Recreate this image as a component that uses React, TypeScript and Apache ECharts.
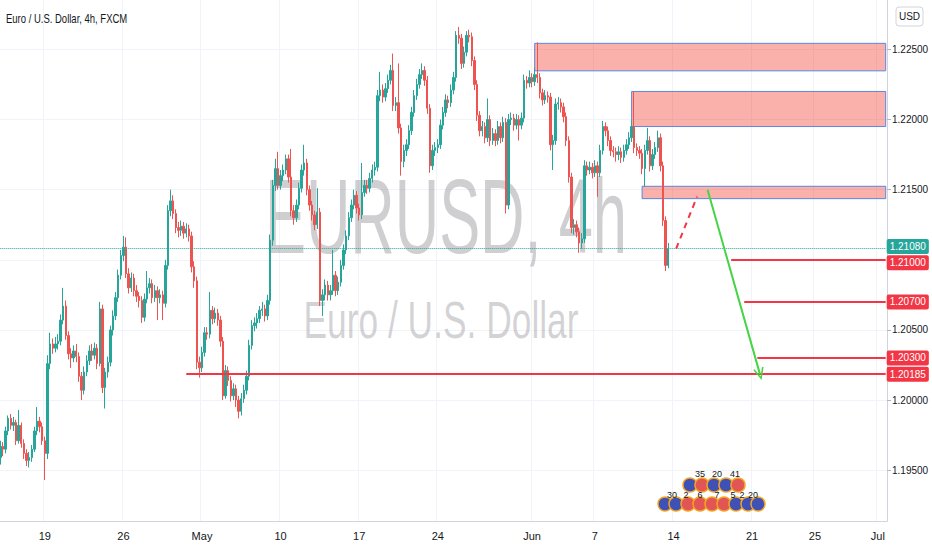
import React, { useEffect, useRef } from 'react';
import * as echarts from 'echarts';

// EUR/USD 4h candles, [open, close, low, high], grouped by trading week
const wkApr14 = [
  [1.1959, 1.1967, 1.1954, 1.1971], [1.1967, 1.1965, 1.196, 1.197], [1.1965, 1.1978, 1.1962, 1.1981],
  [1.1978, 1.1987, 1.1975, 1.1989], [1.1987, 1.1982, 1.1979, 1.199], [1.1982, 1.1984, 1.1978, 1.1988],
  [1.1984, 1.1971, 1.1968, 1.1986], [1.1971, 1.1982, 1.1969, 1.1993], [1.1982, 1.1969, 1.1966, 1.1984],
  [1.1969, 1.1962, 1.1958, 1.1972], [1.1962, 1.1957, 1.1953, 1.1965], [1.1957, 1.1959, 1.1952, 1.1963],
  [1.1959, 1.1965, 1.1956, 1.1968], [1.1965, 1.1978, 1.1963, 1.1981], [1.1978, 1.1985, 1.1975, 1.1995],
  [1.1985, 1.1981, 1.1977, 1.1988],
];
const wkApr19 = [
  [1.1981, 1.1971, 1.1968, 1.1984], [1.1971, 1.1962, 1.1943, 1.1974], [1.1962, 1.2026, 1.1958, 1.2032],
  [1.2026, 1.204, 1.2022, 1.2048], [1.204, 1.2037, 1.2033, 1.2044], [1.2037, 1.204, 1.2034, 1.2045],
  [1.204, 1.2042, 1.2036, 1.2047], [1.2042, 1.2057, 1.2039, 1.2061], [1.2057, 1.2067, 1.2054, 1.208],
  [1.2067, 1.2046, 1.2043, 1.2071], [1.2046, 1.2033, 1.2029, 1.2049], [1.2033, 1.203, 1.2023, 1.2037],
  [1.203, 1.2035, 1.2027, 1.2039], [1.2035, 1.2031, 1.2027, 1.204], [1.2031, 1.2017, 1.2013, 1.2034],
  [1.2017, 1.2007, 1.2, 1.202], [1.2007, 1.202, 1.2004, 1.2024], [1.202, 1.2028, 1.2017, 1.2032],
  [1.2028, 1.2035, 1.2025, 1.2039], [1.2035, 1.2032, 1.2028, 1.204], [1.2032, 1.2037, 1.2029, 1.2041],
  [1.2037, 1.2026, 1.2022, 1.204], [1.2026, 1.2065, 1.2024, 1.207], [1.2065, 1.2009, 1.2005, 1.2068],
  [1.2009, 1.202, 1.1994, 1.2023], [1.202, 1.2027, 1.2016, 1.2031], [1.2027, 1.205, 1.2024, 1.2053],
  [1.205, 1.206, 1.2046, 1.2064], [1.206, 1.2073, 1.2057, 1.2077], [1.2073, 1.2089, 1.207, 1.2093],
];
const wkApr26 = [
  [1.2089, 1.2103, 1.2086, 1.2107], [1.2103, 1.2109, 1.2099, 1.2117], [1.2109, 1.209, 1.2087, 1.2116],
  [1.209, 1.208, 1.2076, 1.2094], [1.208, 1.2087, 1.2077, 1.2091], [1.2087, 1.2078, 1.2074, 1.209],
  [1.2078, 1.2074, 1.207, 1.2082], [1.2074, 1.2071, 1.2066, 1.2077], [1.2071, 1.2059, 1.2055, 1.2074],
  [1.2059, 1.2072, 1.2056, 1.2076], [1.2072, 1.208, 1.2069, 1.2092], [1.208, 1.2083, 1.2076, 1.2087],
  [1.2083, 1.2073, 1.2069, 1.2086], [1.2073, 1.2078, 1.207, 1.2082], [1.2078, 1.2073, 1.2057, 1.2081],
  [1.2073, 1.2075, 1.2069, 1.2079], [1.2075, 1.2069, 1.2057, 1.2078], [1.2069, 1.2096, 1.2066, 1.21],
  [1.2096, 1.2135, 1.2093, 1.2139], [1.2135, 1.2142, 1.2131, 1.215], [1.2142, 1.2133, 1.2129, 1.2146],
  [1.2133, 1.2123, 1.2119, 1.2136], [1.2123, 1.2121, 1.2116, 1.2127], [1.2121, 1.2124, 1.2117, 1.2128],
  [1.2124, 1.2119, 1.2115, 1.2127], [1.2119, 1.2122, 1.2116, 1.2126], [1.2122, 1.2117, 1.2113, 1.2125],
  [1.2117, 1.2095, 1.2091, 1.212], [1.2095, 1.2085, 1.208, 1.2099], [1.2085, 1.2027, 1.2022, 1.2088],
];
const wkMay3 = [
  [1.2027, 1.2023, 1.2016, 1.2031], [1.2023, 1.2034, 1.202, 1.2038], [1.2034, 1.2048, 1.2031, 1.2052],
  [1.2048, 1.2047, 1.2043, 1.2052], [1.2047, 1.2064, 1.2044, 1.2077], [1.2064, 1.2058, 1.2054, 1.2067],
  [1.2058, 1.2062, 1.2055, 1.2066], [1.2062, 1.2057, 1.2053, 1.2065], [1.2057, 1.2042, 1.2038, 1.206],
  [1.2042, 1.2003, 1.2, 1.2045], [1.2003, 1.2021, 1.2001, 1.2025], [1.2021, 1.2014, 1.201, 1.2024],
  [1.2014, 1.2003, 1.1999, 1.2017], [1.2003, 1.2008, 1.2, 1.2012], [1.2008, 1.2, 1.1995, 1.2011],
  [1.2, 1.1992, 1.1987, 1.2003], [1.1992, 1.2001, 1.1989, 1.2005], [1.2001, 1.2007, 1.1998, 1.2011],
  [1.2007, 1.2017, 1.2004, 1.2021], [1.2017, 1.2039, 1.2014, 1.2043], [1.2039, 1.2053, 1.2036, 1.2057],
  [1.2053, 1.2055, 1.2049, 1.2059], [1.2055, 1.2058, 1.2051, 1.2062], [1.2058, 1.2064, 1.2055, 1.2067],
  [1.2064, 1.2065, 1.206, 1.207], [1.2065, 1.206, 1.2056, 1.2068], [1.206, 1.2071, 1.2057, 1.2075],
  [1.2071, 1.2114, 1.2068, 1.2118], [1.2114, 1.2153, 1.211, 1.2157], [1.2153, 1.2165, 1.2149, 1.2172],
];
const wkMay10 = [
  [1.2165, 1.2153, 1.215, 1.2177], [1.2153, 1.216, 1.215, 1.2164], [1.216, 1.2164, 1.2156, 1.2168],
  [1.2164, 1.2172, 1.2161, 1.2175], [1.2172, 1.2159, 1.2155, 1.2175], [1.2159, 1.2135, 1.2131, 1.2179],
  [1.2135, 1.213, 1.2125, 1.2139], [1.213, 1.2139, 1.2127, 1.2143], [1.2139, 1.2151, 1.2136, 1.2155],
  [1.2151, 1.2164, 1.2148, 1.2168], [1.2164, 1.2169, 1.216, 1.2182], [1.2169, 1.215, 1.2146, 1.2172],
  [1.215, 1.2139, 1.2135, 1.2153], [1.2139, 1.2132, 1.2128, 1.2142], [1.2132, 1.2125, 1.2121, 1.2135],
  [1.2125, 1.2134, 1.2122, 1.2151], [1.2134, 1.2071, 1.2067, 1.2137], [1.2071, 1.2075, 1.206, 1.2079],
  [1.2075, 1.2082, 1.2071, 1.2086], [1.2082, 1.2075, 1.2071, 1.2085], [1.2075, 1.2078, 1.2071, 1.2082],
  [1.2078, 1.2089, 1.2075, 1.2107], [1.2089, 1.2078, 1.2074, 1.2092], [1.2078, 1.2084, 1.2075, 1.2088],
  [1.2084, 1.2096, 1.2081, 1.21], [1.2096, 1.2107, 1.2093, 1.2111], [1.2107, 1.2117, 1.2104, 1.2121],
  [1.2117, 1.213, 1.2114, 1.2134], [1.213, 1.2139, 1.2127, 1.2143], [1.2139, 1.2146, 1.2136, 1.215],
];
const wkMay17 = [
  [1.2146, 1.2137, 1.2133, 1.2149], [1.2137, 1.2132, 1.2128, 1.214], [1.2132, 1.2148, 1.2129, 1.2169],
  [1.2148, 1.2153, 1.2145, 1.2157], [1.2153, 1.2151, 1.2147, 1.2157], [1.2151, 1.2158, 1.2148, 1.2162],
  [1.2158, 1.2164, 1.2155, 1.2168], [1.2164, 1.2166, 1.216, 1.217], [1.2166, 1.2217, 1.2163, 1.2221],
  [1.2217, 1.2221, 1.2213, 1.2234], [1.2221, 1.2216, 1.2212, 1.2225], [1.2216, 1.2222, 1.2213, 1.2226],
  [1.2222, 1.2228, 1.2219, 1.2232], [1.2228, 1.2235, 1.2225, 1.2239], [1.2235, 1.221, 1.2206, 1.2247],
  [1.221, 1.2212, 1.2206, 1.2216], [1.2212, 1.2194, 1.219, 1.224], [1.2194, 1.217, 1.216, 1.2197],
  [1.217, 1.2178, 1.2166, 1.2182], [1.2178, 1.2182, 1.2174, 1.2186], [1.2182, 1.2192, 1.2179, 1.2196],
  [1.2192, 1.2205, 1.2189, 1.2209], [1.2205, 1.2217, 1.2202, 1.2221], [1.2217, 1.2225, 1.2214, 1.2229],
  [1.2225, 1.2232, 1.2222, 1.2236], [1.2232, 1.2235, 1.2229, 1.224], [1.2235, 1.2228, 1.2224, 1.2238],
  [1.2228, 1.2208, 1.2204, 1.2231], [1.2208, 1.2167, 1.2162, 1.2211], [1.2167, 1.2178, 1.2164, 1.2182],
];
const wkMay24 = [
  [1.2178, 1.218, 1.2174, 1.2184], [1.218, 1.2182, 1.2176, 1.2186], [1.2182, 1.2196, 1.2179, 1.22],
  [1.2196, 1.2205, 1.2193, 1.2209], [1.2205, 1.2214, 1.2202, 1.2218], [1.2214, 1.2212, 1.2208, 1.2217],
  [1.2212, 1.2221, 1.2209, 1.2225], [1.2221, 1.223, 1.2218, 1.2234], [1.223, 1.226, 1.2227, 1.2263],
  [1.226, 1.2258, 1.2254, 1.2266], [1.2258, 1.224, 1.2236, 1.2261], [1.224, 1.2248, 1.2237, 1.2252],
  [1.2248, 1.226, 1.2245, 1.2263], [1.226, 1.2259, 1.2255, 1.2264], [1.2259, 1.2242, 1.2238, 1.2262],
  [1.2242, 1.2225, 1.2221, 1.2245], [1.2225, 1.2203, 1.2199, 1.2228], [1.2203, 1.2192, 1.2188, 1.2206],
  [1.2192, 1.2195, 1.2188, 1.2199], [1.2195, 1.2187, 1.2183, 1.2198], [1.2187, 1.22, 1.2184, 1.2215],
  [1.22, 1.2185, 1.2181, 1.2203], [1.2185, 1.219, 1.2182, 1.2194], [1.219, 1.2185, 1.2181, 1.2193],
  [1.2185, 1.2195, 1.2182, 1.2199], [1.2195, 1.2187, 1.2183, 1.2198], [1.2187, 1.2198, 1.2184, 1.2202],
  [1.2198, 1.2139, 1.2133, 1.2201], [1.2139, 1.22, 1.2136, 1.2204], [1.22, 1.2201, 1.2196, 1.2205],
];
const wkMay31 = [
  [1.2201, 1.2196, 1.2192, 1.2204], [1.2196, 1.22, 1.2193, 1.2204], [1.22, 1.2196, 1.2185, 1.2203],
  [1.2196, 1.2201, 1.2193, 1.2205], [1.2201, 1.2228, 1.2198, 1.2232], [1.2228, 1.2226, 1.2222, 1.2231],
  [1.2226, 1.223, 1.2223, 1.2235], [1.223, 1.2227, 1.2223, 1.2233], [1.2227, 1.2232, 1.2224, 1.2237],
  [1.2232, 1.223, 1.2226, 1.2255], [1.223, 1.2219, 1.2215, 1.2233], [1.2219, 1.2214, 1.221, 1.2222],
  [1.2214, 1.2217, 1.2211, 1.2221], [1.2217, 1.2216, 1.2212, 1.222], [1.2216, 1.2182, 1.2178, 1.2219],
  [1.2182, 1.2185, 1.2164, 1.2189], [1.2185, 1.2211, 1.2182, 1.2215], [1.2211, 1.2212, 1.2207, 1.2216],
  [1.2212, 1.2209, 1.2205, 1.2215], [1.2209, 1.2202, 1.2198, 1.2212], [1.2202, 1.2185, 1.2181, 1.2205],
  [1.2185, 1.2159, 1.2155, 1.2188], [1.2159, 1.2123, 1.2119, 1.2162], [1.2123, 1.2125, 1.2118, 1.2129],
  [1.2125, 1.212, 1.2116, 1.2128], [1.212, 1.2112, 1.2105, 1.2123], [1.2112, 1.2115, 1.2108, 1.2119],
  [1.2115, 1.2167, 1.2112, 1.2171], [1.2167, 1.2164, 1.216, 1.217], [1.2164, 1.2166, 1.2161, 1.217],
];
const wkJun7 = [
  [1.2166, 1.2162, 1.2158, 1.2169], [1.2162, 1.2167, 1.2159, 1.2171], [1.2167, 1.2162, 1.2145, 1.217],
  [1.2162, 1.2178, 1.2159, 1.2182], [1.2178, 1.2195, 1.2175, 1.2199], [1.2195, 1.2192, 1.2188, 1.2198],
  [1.2192, 1.2185, 1.2181, 1.2195], [1.2185, 1.2178, 1.2174, 1.2188], [1.2178, 1.2177, 1.2173, 1.2181],
  [1.2177, 1.2175, 1.217, 1.218], [1.2175, 1.2177, 1.2171, 1.2181], [1.2177, 1.2173, 1.2169, 1.218],
  [1.2173, 1.2178, 1.217, 1.2182], [1.2178, 1.2182, 1.2175, 1.2186], [1.2182, 1.2187, 1.2179, 1.2191],
  [1.2187, 1.2195, 1.2184, 1.2199], [1.2195, 1.218, 1.2176, 1.222], [1.218, 1.2178, 1.2174, 1.2183],
  [1.2178, 1.2176, 1.2172, 1.2181], [1.2176, 1.2165, 1.2161, 1.2179], [1.2165, 1.2178, 1.2152, 1.2182],
  [1.2178, 1.2185, 1.2175, 1.2194], [1.2185, 1.2167, 1.2163, 1.2188], [1.2167, 1.2175, 1.2164, 1.2179],
  [1.2175, 1.218, 1.2172, 1.2184], [1.218, 1.2187, 1.2177, 1.2192], [1.2187, 1.2167, 1.2163, 1.219],
  [1.2167, 1.2128, 1.2124, 1.217], [1.2128, 1.2096, 1.2092, 1.2131], [1.2096, 1.2108, 1.2094, 1.2112],
];
const candles = [...wkApr14, ...wkApr19, ...wkApr26, ...wkMay3, ...wkMay10, ...wkMay17, ...wkMay24, ...wkMay31, ...wkJun7];

// time axis: 4h slots (data + empty future space)
const totalSlots = 339;
const tickDays = ['2021-04-19', '2021-04-26', '2021-05-03', '2021-05-10', '2021-05-17', '2021-05-24', '2021-06-01', '2021-06-07', '2021-06-14', '2021-06-21', '2021-06-25', '2021-07-01'];
const tickTexts = ['19', '26', 'May', '10', '17', '24', 'Jun', '7', '14', '21', '25', 'Jul'];

// price axis
const priceTicks = [1.195, 1.2, 1.205, 1.21, 1.215, 1.22, 1.225];
const priceLabelTicks = [1.195, 1.2, 1.205, 1.215, 1.22, 1.225];
const priceMin = 1.19138;
const priceMax = 1.22852;
const lastPrice = 1.2108;

// drawings
const zoneStarts = ['2021-06-01 05', '2021-06-09 09', '2021-06-10 01'];
const zoneTops = [1.22543, 1.222, 1.21524];
const zoneBottoms = [1.22347, 1.2195, 1.21436];
const levelStarts = ['2021-06-17 17', '2021-06-18 13', '2021-06-21 09', '2021-04-30 01'];
const levelPrices = [1.21, 1.207, 1.203, 1.20185];
const projTimes = ['2021-06-14 05', '2021-06-15 13'];
const projPrices = [1.2108, 1.2145];
const arrowTimes = ['2021-06-16 05', '2021-06-21 13'];
const arrowPrices = [1.215, 1.20185];

const FONT = '"Liberation Sans", Arial, sans-serif';
const UP = '#26a69a';
const DOWN = '#ef5350';
const RED = '#f23645';

function buildTimes(n: number): string[] {
  const out: string[] = [];
  const pad = (v: number) => String(v).padStart(2, '0');
  let t = Date.UTC(2021, 3, 14, 5);
  while (out.length < n) {
    const d = new Date(t);
    const wd = d.getUTCDay();
    const h = d.getUTCHours();
    const closed = (wd === 5 && h >= 21) || wd === 6 || (wd === 0 && h < 21);
    if (!closed) out.push(`${d.getUTCFullYear()}-${pad(d.getUTCMonth() + 1)}-${pad(d.getUTCDate())} ${pad(h)}`);
    t += 4 * 3600 * 1000;
  }
  return out;
}

function boxLabel(text: string, bg: string, dy = 0) {
  return {
    show: true,
    position: 'end',
    formatter: text,
    color: '#ffffff',
    backgroundColor: bg,
    padding: [2, 3, 1, 3],
    fontSize: 10,
    lineHeight: 12,
    fontFamily: FONT,
    distance: 1,
    offset: [0, dy],
    borderRadius: 2,
  };
}

function eventIcons() {
  const row1 = [690, 702, 714, 726, 738];
  const row2 = [665, 676, 688, 700, 712, 724, 736, 748, 758];
  const fills1 = ['#3f51b5', '#e25555', '#3f51b5', '#3f51b5', '#e25555'];
  const fills2 = ['#3f51b5', '#3f51b5', '#e25555', '#e25555', '#e25555', '#e25555', '#3f51b5', '#3f51b5', '#3f51b5'];
  const els: any[] = [];
  row1.forEach((x, k) => els.push({ type: 'circle', shape: { cx: x, cy: 485, r: 7 }, style: { fill: fills1[k], stroke: '#f5a623', lineWidth: 1.5 }, z: 20 }));
  row2.forEach((x, k) => els.push({ type: 'circle', shape: { cx: x, cy: 504, r: 7 }, style: { fill: fills2[k], stroke: '#f5a623', lineWidth: 1.5 }, z: 20 }));
  const t1 = [['35', 700], ['20', 717], ['41', 735]];
  const t2 = [['30', 672], ['2', 686], ['6', 700], ['7', 717], ['5', 733], ['2', 742], ['20', 753]];
  t1.forEach(([s, x]) => els.push({ type: 'text', x: x as number, y: 474, style: { text: s as string, font: `9px ${FONT}`, fill: '#131722', align: 'center', verticalAlign: 'middle' }, z: 21 }));
  t2.forEach(([s, x]) => els.push({ type: 'text', x: x as number, y: 495, style: { text: s as string, font: `9px ${FONT}`, fill: '#131722', align: 'center', verticalAlign: 'middle' }, z: 21 }));
  return els;
}

export default function App() {
  const ref = useRef<HTMLDivElement>(null);

  useEffect(() => {
    if (!ref.current) return;
    const chart = echarts.init(ref.current, undefined, { renderer: 'svg' });
    const times = buildTimes(totalSlots);
    const lastSlot = times[totalSlots - 1];
    const tickMap: Record<string, string> = {};
    tickDays.forEach((d, i) => { tickMap[`${d} 01`] = tickTexts[i]; });
    const showTick = (_: number, v: string) => tickMap[v] !== undefined;

    const markLines: any[] = [];
    levelStarts.forEach((s, k) => {
      markLines.push([
        { coord: [s, levelPrices[k]], lineStyle: { color: RED, type: 'solid', width: 2 }, label: boxLabel(levelPrices[k].toFixed(5), RED, k === 0 ? 3 : 0) },
        { coord: [lastSlot, levelPrices[k]] },
      ]);
    });
    markLines.push([
      { coord: [times[0], lastPrice], lineStyle: { color: UP, type: 'dotted', width: 1 }, label: boxLabel(lastPrice.toFixed(5), UP, -2) },
      { coord: [lastSlot, lastPrice] },
    ]);
    markLines.push([
      { coord: [projTimes[0], projPrices[0]], lineStyle: { color: RED, type: [6, 5], width: 2 }, label: { show: false } },
      { coord: [projTimes[1], projPrices[1]] },
    ]);
    markLines.push([
      { coord: [arrowTimes[0], arrowPrices[0]], lineStyle: { color: '#45d445', type: 'solid', width: 2 }, label: { show: false } },
      { coord: [arrowTimes[1], arrowPrices[1]], symbol: 'path://M0,12 L5,0 L10,12 L8.4,12 L5,3.6 L1.6,12 Z', symbolSize: [11, 12] },
    ]);

    const markAreas = zoneStarts.map((s, k) => [
      { coord: [s, zoneTops[k]] },
      { coord: [lastSlot, zoneBottoms[k]] },
    ]);

    chart.setOption({
      animation: false,
      backgroundColor: '#ffffff',
      grid: { left: -1, right: 45, top: 0, bottom: 29, containLabel: false, outerBoundsMode: 'none' },
      xAxis: {
        type: 'category',
        data: times,
        boundaryGap: true,
        axisLine: { show: true, lineStyle: { color: '#d1d4dc' } },
        axisTick: { show: false },
        axisLabel: {
          interval: showTick,
          formatter: (v: string) => tickMap[v] ?? '',
          color: '#131722',
          fontSize: 11,
          margin: 9,
          fontFamily: FONT,
        },
        splitLine: { show: true, interval: showTick, lineStyle: { color: '#f0f3fa' } },
      },
      yAxis: {
        type: 'value',
        position: 'right',
        min: priceMin,
        max: priceMax,
        axisLine: { show: true, lineStyle: { color: '#d1d4dc' } },
        axisTick: { show: true, length: 4, customValues: priceTicks, lineStyle: { color: '#b2b5be' } },
        axisLabel: {
          customValues: priceLabelTicks,
          formatter: (v: number) => v.toFixed(5),
          color: '#131722',
          fontSize: 10,
          margin: 5,
          fontFamily: FONT,
        },
        splitLine: { show: true, lineStyle: { color: '#f0f3fa' } },
      },
      graphic: [
        {
          type: 'text', x: 446, y: 216, scaleX: 0.58, z: 1, silent: true,
          style: { text: 'EURUSD, 4h', font: `106px ${FONT}`, fill: 'rgba(140,140,146,0.42)', align: 'center', verticalAlign: 'middle' },
        },
        {
          type: 'text', x: 441, y: 320, scaleX: 0.68, z: 1, silent: true,
          style: { text: 'Euro / U.S. Dollar', font: `52px ${FONT}`, fill: 'rgba(140,140,146,0.38)', align: 'center', verticalAlign: 'middle' },
        },
        {
          type: 'text', x: 6, y: 18, scaleX: 0.73, z: 30, silent: true,
          style: { text: 'Euro / U.S. Dollar, 4h, FXCM', font: `13px ${FONT}`, fill: '#131722', align: 'left', verticalAlign: 'middle' },
        },
        {
          type: 'group', z: 30,
          children: [
            { type: 'rect', shape: { x: 896, y: 7, width: 27, height: 19, r: 3 }, style: { fill: '#ffffff', stroke: '#d1d4dc', lineWidth: 1 } },
            { type: 'text', x: 909.5, y: 16.5, style: { text: 'USD', font: `10px ${FONT}`, fill: '#131722', align: 'center', verticalAlign: 'middle' } },
          ],
        },
        ...eventIcons(),
      ],
      series: [
        {
          type: 'candlestick',
          data: candles,
          barWidth: '72%',
          clip: false,
          itemStyle: { color: UP, color0: DOWN, borderColor: UP, borderColor0: DOWN, borderWidth: 1 },
          markArea: {
            silent: true,
            itemStyle: { color: 'rgba(244,67,54,0.42)', borderColor: '#5b86e0', borderWidth: 1 },
            label: { show: false },
            data: markAreas,
          },
          markLine: {
            silent: true,
            symbol: ['none', 'none'],
            animation: false,
            data: markLines,
          },
        },
      ],
    });
    return () => chart.dispose();
  }, []);

  return <div ref={ref} style={{ position: 'fixed', left: 0, top: 0, width: 932, height: 550 }} />;
}
